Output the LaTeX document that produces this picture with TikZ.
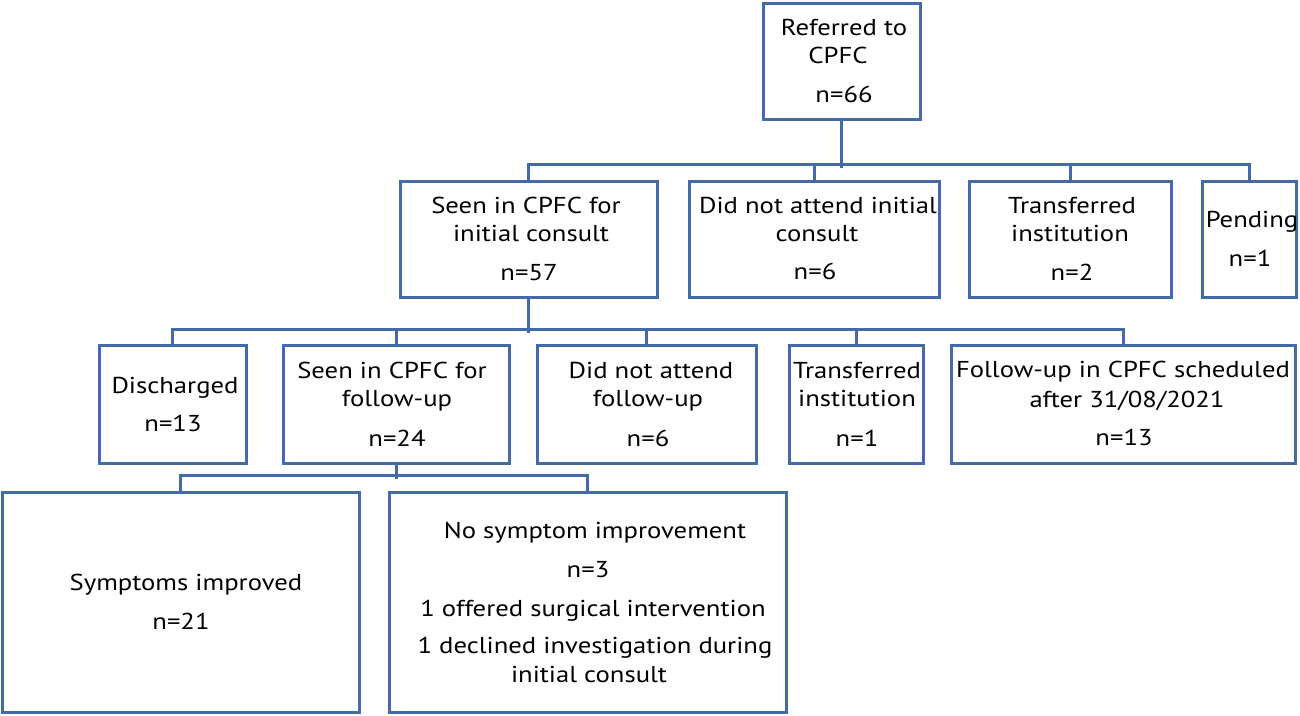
\documentclass[tikz,border=0pt]{standalone}
\usepackage{fontspec}
\setmainfont{PT Sans}[FakeStretch=1.16]
\definecolor{boxblue}{RGB}{68,106,168}
\begin{document}
\begin{tikzpicture}[x=1pt,y=-1pt,
  box/.style={draw=boxblue,line width=3pt,rectangle,inner sep=0pt,fill=white},
  conn/.style={draw=boxblue,line width=3pt},
  txt/.style={anchor=base,inner sep=0pt,font=\fontsize{23}{28}\selectfont}]
\useasboundingbox (0,0) rectangle (1300,715);
% boxes
\node[box,minimum width=157pt,minimum height=116pt] (ref) at (841.5,61) {};
\node[box,minimum width=257pt,minimum height=116pt] (seen1) at (528.5,239) {};
\node[box,minimum width=250pt,minimum height=116pt] (dna1) at (814,239) {};
\node[box,minimum width=202pt,minimum height=116pt] (trans1) at (1070,239) {};
\node[box,minimum width=94pt,minimum height=116pt] (pend) at (1249,239) {};
\node[box,minimum width=147pt,minimum height=118pt] (disch) at (172.5,404) {};
\node[box,minimum width=226pt,minimum height=118pt] (seen2) at (396,404) {};
\node[box,minimum width=219pt,minimum height=118pt] (dna2) at (646.5,404) {};
\node[box,minimum width=134pt,minimum height=118pt] (trans2) at (856,404) {};
\node[box,minimum width=344pt,minimum height=118pt] (fu) at (1123,404) {};
\node[box,minimum width=357pt,minimum height=220pt] (symp) at (180.5,602) {};
\node[box,minimum width=397pt,minimum height=220pt] (nosymp) at (587.5,602) {};
% connectors
\draw[conn] (ref.south) -- ++(0,47);
\draw[conn] (seen1.north) -- ++(0,-15) -| (pend.north);
\draw[conn] (dna1.north) -- ++(0,-15);
\draw[conn] (trans1.north) -- ++(0,-15);
\draw[conn] (seen1.south) -- ++(0,34);
\draw[conn] (disch.north) -- ++(0,-14) -| (fu.north);
\draw[conn] (seen2.north) -- ++(0,-14);
\draw[conn] (dna2.north) -- ++(0,-14);
\draw[conn] (trans2.north) -- ++(0,-14);
\draw[conn] (seen2.south) -- ++(0,14);
\draw[conn] (symp.north) -- ++(0,-15) -| (nosymp.north);
% texts
\node[txt] (ref-a) at (844,35) {Referred to};
\node[txt] (ref-b) at (838,63) {CPFC};
\node[txt] (ref-c) at (844,102) {n=66};
\node[txt] (seen1-a) at (526,213) {Seen in CPFC for};
\node[txt] (seen1-b) at (531,241) {initial consult};
\node[txt] (seen1-c) at (529,280) {n=57};
\node[txt] (dna1-a) at (818,213) {Did not attend initial};
\node[txt] (dna1-b) at (817,241) {consult};
\node[txt] (dna1-c) at (815,279) {n=6};
\node[txt] (trans1-a) at (1072,213) {Transferred};
\node[txt] (trans1-b) at (1070,241) {institution};
\node[txt] (trans1-c) at (1072,280) {n=2};
\node[txt] (pend-a) at (1252,227) {Pending};
\node[txt] (pend-b) at (1250,266) {n=1};
\node[txt] (disch-a) at (175,393) {Discharged};
\node[txt] (disch-b) at (173,431) {n=13};
\node[txt] (seen2-a) at (392,378) {Seen in CPFC for};
\node[txt] (seen2-b) at (397,406) {follow-up};
\node[txt] (seen2-c) at (397,446) {n=24};
\node[txt] (dna2-a) at (651,378) {Did not attend};
\node[txt] (dna2-b) at (648,406) {follow-up};
\node[txt] (dna2-c) at (648,446) {n=6};
\node[txt] (trans2-a) at (857,378) {Transferred};
\node[txt] (trans2-b) at (857,406) {institution};
\node[txt] (trans2-c) at (857,446) {n=1};
\node[txt] (fu-a) at (1123,377) {Follow-up in CPFC scheduled};
\node[txt] (fu-b) at (1127,407) {after 31/08/2021};
\node[txt] (fu-c) at (1124,445) {n=13};
\node[txt] (symp-a) at (186,590) {Symptoms improved};
\node[txt] (symp-b) at (181,629) {n=21};
\node[txt] (nosymp-a) at (595,538) {No symptom improvement};
\node[txt] (nosymp-b) at (588,577) {n=3};
\node[txt] (nosymp-c) at (593,616) {1 offered surgical intervention};
\node[txt] (nosymp-d) at (595,653) {1 declined investigation during};
\node[txt] (nosymp-e) at (589,682) {initial consult};
\end{tikzpicture}
\end{document}
